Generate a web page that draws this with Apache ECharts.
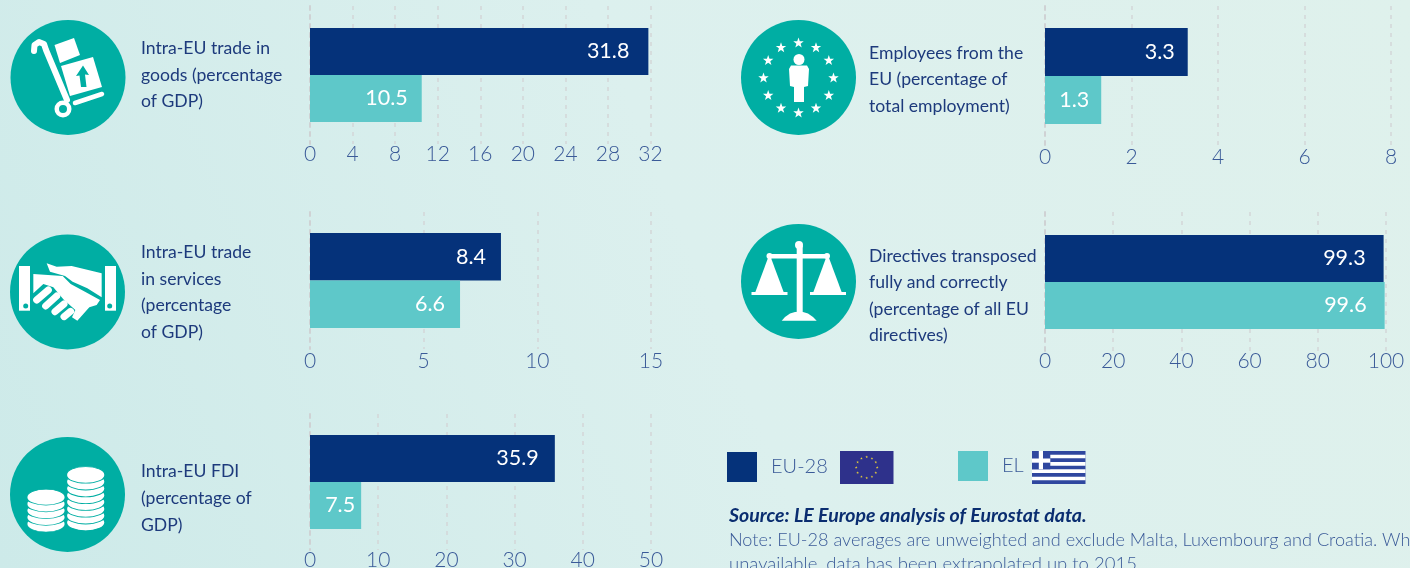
<!DOCTYPE html>
<html><head><meta charset="utf-8">
<style>html,body{margin:0;padding:0;overflow:hidden;background:#d8eeea}#c{width:1410px;height:568px}</style>
<script src="https://cdn.jsdelivr.net/npm/echarts@6/dist/echarts.min.js"></script>
</head><body><div id="c"></div>
<script>
// ---- data ----
const seriesNames = ['EU-28', 'EL'];
const goodsValues = [31.8, 10.5];
const servicesValues = [8.4, 6.6];
const fdiValues = [35.9, 7.5];
const employeesValues = [3.3, 1.3];
const directivesValues = [99.3, 99.6];
const goodsLabel = ['Intra-EU trade in', 'goods (percentage', 'of GDP)'];
const servicesLabel = ['Intra-EU trade', 'in services', '(percentage', 'of GDP)'];
const fdiLabel = ['Intra-EU FDI', '(percentage of', 'GDP)'];
const employeesLabel = ['Employees from the', 'EU (percentage of', 'total employment)'];
const directivesLabel = ['Directives transposed', 'fully and correctly', '(percentage of all EU', 'directives)'];
const sourceText = 'Source: LE Europe analysis of Eurostat data.';
const noteLine1 = 'Note: EU-28 averages are unweighted and exclude Malta, Luxembourg and Croatia. Wh';
const noteLine2 = 'unavailable, data has been extrapolated up to 2015.';

// ---- style ----
const NAVY = '#05327a', AQUA = '#5ec8c9', TEAL = '#00aea3', TXT = '#1d3a7c', AXT = '#3a5a98';
const BODY = 'Lato, "Open Sans", sans-serif';

const panels = [
  {values: goodsValues, max: 32, step: 4, left: 310, right: 650.5, top: 6, h: 138, bar: 47, inset: [19, 14], lab: 0},
  {values: employeesValues, max: 8, step: 2, left: 1045, right: 1391, top: 6, h: 140, bar: 48, inset: [13, 12], lab: 1},
  {values: servicesValues, max: 15, step: 5, left: 310, right: 651, top: 212, h: 137, bar: 47.5, inset: [15, 15], lab: 2},
  {values: directivesValues, max: 100, step: 20, left: 1045, right: 1386, top: 212, h: 140, bar: 47, inset: [18, 18], lab: -1},
  {values: fdiValues, max: 50, step: 10, left: 310, right: 651, top: 414, h: 136, bar: 47, inset: [16, 6], lab: 0}
];

const grids = [], xAxes = [], yAxes = [], seriesList = [];
panels.forEach((p, i) => {
  grids.push({left: p.left, top: p.top, width: p.right - p.left, height: p.h, containLabel: false, outerBoundsMode: 'none'});
  xAxes.push({gridIndex: i, type: 'value', min: 0, max: p.max, interval: p.step, position: 'bottom',
    axisLine: {show: false}, axisTick: {show: false},
    splitLine: {show: true, lineStyle: {color: '#d3d6d8', type: [4, 5], width: 1.5}},
    axisLabel: {color: AXT, fontFamily: BODY, fontWeight: 300, fontSize: 21, margin: p.lab, showMaxLabel: true, hideOverlap: false}});
  yAxes.push({gridIndex: i, type: 'category', data: ['v'], inverse: true,
    axisLine: {show: true, lineStyle: {color: '#cfd2d4', type: [4, 5], width: 2}},
    axisTick: {show: false}, axisLabel: {show: false}, splitLine: {show: false}});
  seriesNames.forEach((name, s) => {
    seriesList.push({name, type: 'bar', xAxisIndex: i, yAxisIndex: i, barWidth: p.bar, barGap: 0,
      itemStyle: {color: s === 0 ? NAVY : AQUA}, silent: true, z: 3,
      data: [p.values[s]],
      label: {show: true, position: 'insideRight', distance: p.inset[s], color: '#fff',
        fontFamily: BODY, fontSize: 21.5, fontWeight: 400, formatter: o => o.value.toFixed(1)}});
  });
});

// ---- decorative helpers ----
const W = '#fff';
const gfx = [];
const circle = (cx, cy, r, fill, z) => gfx.push({type: 'circle', shape: {cx, cy, r}, style: {fill}, z: z || 6});
const ell = (cx, cy, rx, ry, fill, stroke, lw) => gfx.push({type: 'circle', x: cx, y: cy, scaleY: ry / rx, shape: {cx: 0, cy: 0, r: rx}, style: {fill, stroke, lineWidth: lw || 0}, z: 6});
const rect = (x, y, width, height, fill, z) => gfx.push({type: 'rect', shape: {x, y, width, height}, style: {fill}, z: z || 6});
const poly = (points, fill, z) => gfx.push({type: 'polygon', shape: {points}, style: {fill}, z: z || 6});
const line = (points, lw, color) => gfx.push({type: 'polyline', shape: {points}, style: {stroke: color || W, lineWidth: lw, lineCap: 'round', lineJoin: 'round', fill: null}, z: 6});
const star = (cx, cy, R, fill, z) => {
  const pts = [];
  for (let k = 0; k < 10; k++) {
    const a = -Math.PI / 2 + k * Math.PI / 5, r = k % 2 ? R * 0.4 : R;
    pts.push([cx + r * Math.cos(a), cy + r * Math.sin(a)]);
  }
  poly(pts, fill, z);
};
const text = (lines, x, ys, opt) => lines.forEach((t, k) => gfx.push({type: 'text', x, y: ys[k],
  style: Object.assign({text: t, fill: TXT, font: '400 17.6px ' + BODY, verticalAlign: 'middle'}, opt || {}), z: 7}));

// circles
[[68, 77.5], [798.5, 77.5], [67.5, 292], [798.5, 281.5], [67.5, 494.5]].forEach(c => circle(c[0], c[1], 57.5, TEAL, 5));

// hand truck
line([[34, 51], [34.5, 45], [39, 42], [44, 44], [46, 50], [67, 100]], 6);
gfx.push({type: 'ring', shape: {cx: 63, cy: 109, r: 8.5, r0: 4}, style: {fill: W}, z: 6});
line([[75, 103], [102, 94]], 4.5);
poly([[54.5, 45], [74, 38], [80, 55], [60, 63]], W);
poly([[61, 66], [93, 57], [102, 87], [70, 96]], W);
poly([[83, 65.5], [89, 75], [85, 74.5], [86.5, 87], [81, 87], [79.5, 75.5], [76, 76]], TEAL, 7);

// EU person with stars
for (let k = 0; k < 12; k++) {
  const a = k * Math.PI / 6;
  star(798.5 + 35 * Math.sin(a), 78 - 35 * Math.cos(a), 5.5, W);
}
circle(799, 59.5, 5.5, W);
poly([[791, 65.5], [807, 65.5], [809, 69], [808, 86], [804, 87], [804, 102], [794, 102], [794, 87], [790, 86], [789, 69]], W);

// handshake
rect(19, 266, 11, 44.7, W); rect(105, 266, 11, 44.7, W);
circle(25.7, 306, 2.5, TEAL, 7);
circle(109.7, 306, 2.5, TEAL, 7);
const Z = (x, y) => [x / 3, 210 + y / 3];
poly([[140, 160], [170, 170], [215, 168], [305, 190], [305, 262], [262, 235], [218, 215], [195, 198], [150, 185]].map(q => Z(q[0], q[1])), W);
poly([[100, 192], [188, 198], [212, 222], [255, 245], [300, 270], [290, 285], [268, 292], [252, 310], [232, 332], [216, 322], [226, 300], [190, 268], [160, 232], [130, 222], [100, 250]].map(q => Z(q[0], q[1])), W);
[[[110, 270], [145, 240]], [[137, 288], [170, 258]], [[165, 305], [192, 282]], [[192, 320], [212, 304]]].forEach(s => line(s.map(q => Z(q[0], q[1])), 7));

// scales
circle(799, 245, 4, W);
rect(796.7, 246, 6, 70, W);
rect(768, 254, 61, 4.5, W);
circle(769.5, 256, 3, W);
circle(827, 256, 3, W);
poly([[768, 258], [771, 258], [784, 293], [755, 293]], W);
poly([[826, 258], [829, 258], [842, 293], [813, 293]], W);
rect(751.5, 292, 36, 3, W); rect(810, 292, 36, 3, W);
poly([[781.7, 320.7], [785, 317], [790, 313.5], [795, 312], [799, 311.7], [803, 312], [808, 313.5], [813, 317], [816.7, 320.7]], W);

// coins
for (let k = 0; k < 5; k++) ell(46, 524 - k * 6.7, 19.5, 8, W, TEAL, 1.8);
for (let k = 0; k < 8; k++) ell(85.7, 522.5 - k * 6.8, 19.5, 8.3, W, TEAL, 1.8);

// row labels
text(goodsLabel, 141, [48, 75, 101]);
text(employeesLabel, 869, [53, 79, 106]);
text(servicesLabel, 141, [252, 279, 305, 332]);
text(directivesLabel, 869, [256, 282, 309, 335]);
text(fdiLabel, 141, [471, 498, 525]);

// flags
rect(840, 451, 53.5, 33, '#2e318b');
for (let k = 0; k < 12; k++) {
  const a = k * Math.PI / 6;
  star(866.7 + 10.5 * Math.sin(a), 467.5 - 10.5 * Math.cos(a), 1.4, '#e6cf3a', 7);
}
rect(1032, 451, 53.5, 33, '#2f479f');
for (let k = 1; k < 9; k += 2) rect(1032, 451 + k * 33 / 9, 53.5, 33 / 9, W, 7);
rect(1032, 451, 18.3, 18.3, '#2f479f', 8);
rect(1032, 458.5, 18.3, 4.2, W, 9);
rect(1038.8, 451, 4.2, 18.3, W, 9);

// source and note
text([sourceText], 729, [516], {fill: '#0a2d70', font: 'italic 700 19.5px ' + BODY});
text([noteLine1], 729, [540], {fill: AXT, font: '300 18.1px ' + BODY});
text([noteLine2], 729, [564], {fill: AXT, font: '300 18.5px ' + BODY});

const legendText = {color: AXT, fontFamily: BODY, fontWeight: 300, fontSize: 20, padding: [0, 0, 0, 9]};
const chart = echarts.init(document.getElementById('c'), null, {renderer: 'canvas'});
chart.setOption({
  animation: false,
  backgroundColor: new echarts.graphic.LinearGradient(0, 1, 1, 0, [{offset: 0, color: '#cdeae9'}, {offset: 0.5, color: '#dcf0ee'}, {offset: 1, color: '#dff1ec'}]),
  tooltip: {show: false},
  legend: [
    {data: ['EU-28'], left: 727, top: 452, itemWidth: 30, itemHeight: 30, icon: 'rect', selectedMode: false, textStyle: legendText, padding: 0},
    {data: ['EL'], left: 958, top: 451, itemWidth: 30, itemHeight: 30, icon: 'rect', selectedMode: false, textStyle: legendText, padding: 0}
  ],
  grid: grids, xAxis: xAxes, yAxis: yAxes, series: seriesList,
  graphic: {elements: gfx}
});
</script></body></html>
